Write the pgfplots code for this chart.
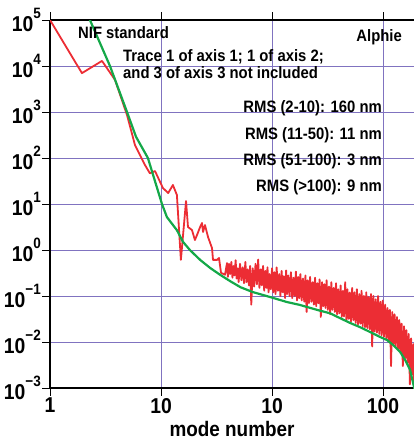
\documentclass[border=0pt]{standalone}
\usepackage{fontspec}
\setmainfont{Liberation Sans}[FakeStretch=0.9]
\usepackage{pgfplots}
\pgfplotsset{compat=1.18}

\definecolor{gridc}{RGB}{128,115,192}
\definecolor{redc}{RGB}{236,45,52}
\definecolor{greenc}{RGB}{20,168,72}

\newcommand\ex[1]{\raisebox{0.6em}{\fontsize{15}{15}\selectfont #1}}
\newcommand\ann{\fontsize{16.5}{16}\selectfont\bfseries}

\begin{document}
\begin{tikzpicture}
\useasboundingbox (-50pt,-53pt) rectangle (364pt,388pt);
\begin{axis}[
    scale only axis,
    width=364pt, height=368pt,
    xmode=log, ymode=log, log basis x=10, log basis y=10,
    xmin=1, xmax=1900, ymin=1e-3, ymax=1e5,
    axis x line=box, axis y line=left,
    axis line style={line width=1.6pt, -},
    xtick={1,10,100,1000}, xticklabels={1,10,10,100},
    ytick={1e-3,1e-2,1e-1,1,10,100,1000,1e4,1e5},
    yticklabels={10\ex{−3},10\ex{−2},10\ex{−1},10\ex{0},10\ex{1},10\ex{2},10\ex{3},10\ex{4},10\ex{5}},
    tick align=outside,
    major tick length=8pt, minor tick length=4pt,
    every tick/.style={black, line width=0.9pt},
    grid=major,
    major grid style={gridc, line width=0.8pt},
    tick label style={font=\fontsize{21.5}{22}\selectfont\bfseries},
    yticklabel style={inner xsep=1pt},
    xticklabel style={inner ysep=2pt},
    xlabel={mode number},
    xlabel style={font=\fontsize{21}{22}\selectfont\bfseries, at={(axis description cs:0.5,0)}, anchor=center, yshift=-41pt},
]
% measured spectrum (Alphie)
\addplot[redc, line width=1.8pt, line join=round] coordinates {
(1,1e5) (1.94,7000) (2.94,12900) (3.85,5000) (4.94,860) (5.83,190) (7.18,70) (7.94,46.5) (8.83,52)
(10.4,22.3) (11.6,17.3) (12.8,25.9) (13.9,15.7) (15.1,0.61) (16.8,11.6) (17.5,3.16) (19.0,2.72)
(20.2,1.65) (21.1,2.12) (22.5,3.16) (23.4,3.86) (23.9,2.46) (24.9,3.49) (26.5,1.92) (28.8,1.1)
(29.4,0.61) (32,0.61) (33.3,0.67) (34.7,0.32) (37.7,0.29) (39.3,0.52) (40,0.26)
(41,0.5) (42,0.3) (43,0.55) (44,0.25) (45,0.45) (46,0.28) (47,0.6) (48,0.24) (49,0.4) (50,0.2)
(51.5,0.5) (53,0.22) (54.5,0.42) (56,0.19) (57.5,0.55) (59,0.2) (60.5,0.38) (62,0.17) (63.5,0.45)
(65,0.065) (67,0.4) (69,0.16) (71,0.5) (73,0.18) (75,0.62) (77,0.15) (79,0.38) (81,0.17) (83,0.45)
(85,0.13) (87,0.35) (89,0.15) (91,0.42) (93,0.12) (95,0.3) (97.5,0.14) (100,0.4) (102.5,0.12)
(105,0.33) (107.5,0.11) (110,0.42) (113,0.13) (116,0.3) (119,0.1) (122,0.35) (125,0.12) (128,0.27)
(131,0.09) (134,0.36) (137,0.11) (140,0.28) (144,0.1) (148,0.33) (152,0.09) (156,0.25) (160,0.1)
(164,0.34) (168,0.08) (172,0.26) (176,0.09) (180,0.3) (185,0.08) (190,0.24) (195,0.075) (200,0.28)
(205,0.045) (210,0.22) (215,0.07) (220,0.26) (226,0.075) (232,0.2) (238,0.065) (244,0.25) (250,0.06)
(256,0.19) (262,0.07) (268,0.23) (275,0.035) (282,0.2) (289,0.06) (296,0.18) (303,0.055) (310,0.22)
(318,0.05) (326,0.16) (334,0.04) (342,0.2) (350,0.05) (359,0.15) (368,0.045) (377,0.19) (386,0.04)
(395,0.14) (405,0.042) (415,0.17) (425,0.035) (435,0.13) (445,0.036) (456,0.2) (467,0.03) (478,0.14)
(490,0.032) (502,0.12) (514,0.028) (527,0.15) (540,0.03) (553,0.12) (567,0.026) (581,0.14) (595,0.024)
(610,0.11) (625,0.025) (640,0.13) (656,0.022) (672,0.1) (689,0.021) (706,0.12) (723,0.02) (741,0.095)
(760,0.019) (779,0.11) (798,0.008) (818,0.1) (838,0.017) (859,0.085) (880,0.016) (902,0.1) (924,0.015)
(947,0.075) (970,0.014) (994,0.08) (1020,0.013) (1045,0.065) (1070,0.012) (1097,0.055) (1124,0.01)
(1152,0.05) (1180,0.003) (1210,0.045) (1240,0.009) (1270,0.04) (1300,0.008) (1335,0.035) (1368,0.007)
(1400,0.03) (1435,0.006) (1470,0.025) (1507,0.003) (1545,0.022) (1583,0.0045) (1622,0.018)
(1662,0.0035) (1703,0.015) (1745,0.0012) (1788,0.012) (1832,0.002) (1877,0.009) (1900,0.0009)
};
% NIF standard
\addplot[greenc, line width=2.2pt, line join=round] coordinates {
(2.2,1.26e5) (2.29,1e5) (3.47,1e4) (4.94,1000) (5.95,290) (7.62,100) (10.2,10) (11.3,5.2) (13.9,2.7)
(15.8,1.5) (18.2,1.0) (22.5,0.61) (27.6,0.41) (34,0.29) (42,0.21) (52,0.155) (67,0.122) (96,0.095)
(136,0.074) (178,0.064) (254,0.050) (334,0.042) (410,0.033) (504,0.026) (621,0.021) (764,0.0165)
(939,0.0129) (1087,0.011) (1232,0.0086) (1423,0.0061) (1578,0.0041) (1751,0.0025) (1862,0.0013)
(1950,0.0008)
};
\end{axis}
\node[font=\ann, anchor=west, inner sep=0pt] at (28pt,355pt) {NIF standard};
\node[font=\ann, anchor=west, inner sep=0pt] at (73pt,331pt) {Trace 1 of axis 1; 1 of axis 2;};
\node[font=\ann, anchor=west, inner sep=0pt] at (73pt,315pt) {and 3 of axis 3 not included};
\node[font=\ann, anchor=east, inner sep=0pt] at (352pt,351pt) {Alphie};
\node[font=\ann, anchor=east, inner sep=0pt] at (332pt,280pt) {RMS (2-10): 160 nm};
\node[font=\ann, anchor=east, inner sep=0pt] at (332pt,253pt) {RMS (11-50): 11 nm};
\node[font=\ann, anchor=east, inner sep=0pt] at (332pt,227pt) {RMS (51-100): 3 nm};
\node[font=\ann, anchor=east, inner sep=0pt] at (332pt,201pt) {RMS (>100): 9 nm};
\end{tikzpicture}
\end{document}
